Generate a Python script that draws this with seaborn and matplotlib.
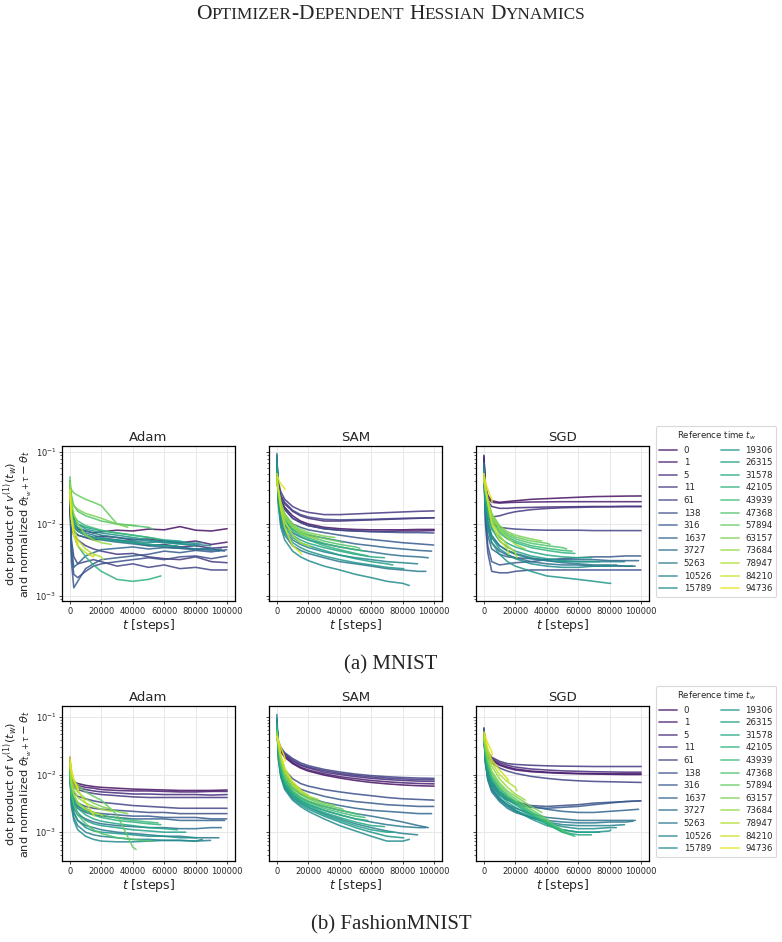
import matplotlib
matplotlib.use("Agg")
import matplotlib.pyplot as plt
import pandas as pd
import seaborn as sns

# reference times (legend entries), one curve per entry in every panel
T_W = [0, 1, 5, 11, 61, 138, 316, 1637, 3727, 5263, 10526, 15789,
       19306, 26315, 31578, 42105, 43939, 47368, 57894, 63157, 73684, 78947, 84210, 94736]
T_GRID = [0, 1000, 2500, 5000, 10000, 15000, 20000, 30000, 40000, 50000,
          60000, 70000, 80000, 90000]
T_TOTAL = 100000
OPTIMIZERS = ["Adam", "SAM", "SGD"]

# dot products, in units of 1e-3 (last value = curve end)
mnist_adam = [
    [20, 12, 9.5, 8.5, 8, 7.5, 7.8, 8.2, 8.0, 8.5, 8.3, 9.2, 8.2, 8.0, 8.6],
    [18, 11, 9, 8, 7, 6.5, 6.8, 6.5, 6.0, 6.2, 5.8, 5.5, 5.8, 5.2, 5.6],
    [16, 10, 8, 7, 6.5, 6.0, 6.2, 5.8, 5.5, 5.0, 5.2, 4.8, 5.0, 4.6, 4.8],
    [15, 9, 7, 6, 5, 4.5, 4.2, 3.8, 3.9, 3.5, 3.3, 3.2, 3.5, 3.0, 2.9],
    [22, 6, 3.5, 2.8, 3.0, 3.2, 3.0, 2.6, 2.8, 2.5, 2.7, 2.4, 2.5, 2.3, 2.3],
    [25, 4, 2, 1.8, 2.2, 2.6, 2.8, 3.0, 3.2, 3.4, 3.2, 3.5, 3.6, 3.3, 3.6],
    [28, 3, 1.3, 1.6, 2.4, 2.8, 3.2, 3.4, 3.6, 3.8, 4.2, 4.0, 4.3, 4.1, 4.4],
    [30, 5, 2.5, 2.8, 3.6, 4.0, 4.4, 4.6, 4.8, 4.5, 4.7, 4.6, 4.4, 4.5, 4.2],
    [30, 12, 8, 7, 6.5, 6.2, 6.0, 5.6, 5.3, 5.0, 4.8, 4.6, 4.5, 4.3, 4.5],
    [32, 14, 10, 8.5, 7.5, 7, 6.5, 6, 5.6, 5.2, 5.0, 4.8, 4.5, 4.6, 4.2],
    [30, 15, 11, 9, 8, 7.5, 7, 6.5, 6.2, 5.8, 5.5, 5.3, 5.2, 5.0],
    [28, 14, 10, 8, 7, 6.5, 6.2, 6, 5.8, 5.5, 5.8, 5.6, 5.4, 5.5],
    [35, 16, 12, 10, 8.5, 8, 7.5, 7, 6.5, 6.0, 5.6, 5.3, 5.0, 4.8],
    [30, 15, 12, 10, 9, 8.5, 8, 7.5, 7, 6.5, 6.0, 5.8, 5.5],
    [28, 14, 10, 8, 7, 6.5, 6.2, 5.8, 5.5, 5.2, 5.0, 5.0],
    [40, 12, 7, 5, 3.5, 2.7, 2.2, 1.7, 1.6, 1.7, 1.9],
    [35, 18, 13, 11, 9.5, 8.8, 8.2, 7.5, 7, 6.5, 6.2],
    [45, 25, 18, 15, 13, 12, 11, 10, 9.5, 9, 8.5],
    [33, 30, 27, 25, 22, 20, 18, 10, 9.5],
    [30, 22, 18, 16, 14, 13, 12, 10, 9],
    [38, 20, 14, 10, 7, 6, 5.5, 5.2],
    [30, 14, 9, 6, 4.5, 3.8, 3.5, 3.2],
    [25, 12, 7, 5, 4, 3.5, 3.8],
    [30, 12, 7, 5.5, 5.0],
]
mnist_sam = [
    [60, 30, 22, 17, 13, 11, 10, 9.0, 8.6, 8.4, 8.3, 8.3, 8.3, 8.4, 8.4],
    [55, 28, 20, 16, 12, 10.5, 9.5, 8.6, 8.2, 8.0, 7.9, 7.9, 8.0, 8.0, 8.1],
    [60, 32, 24, 19, 15, 13, 12, 11, 11, 11.2, 11.4, 11.6, 11.8, 12.0, 12.2],
    [70, 38, 28, 22, 17.5, 15.5, 14.5, 13.5, 13.5, 13.8, 14.1, 14.4, 14.7, 15.0, 15.2],
    [65, 34, 25, 20, 15.5, 13.5, 12.5, 11.6, 11.4, 11.5, 11.6, 11.8, 12.0, 12.1, 12.2],
    [60, 30, 21, 16, 12, 10.5, 9.5, 8.6, 8.2, 8.0, 7.8, 7.7, 7.6, 7.6, 7.5],
    [70, 28, 18, 13, 10, 9, 8.3, 7.6, 7.0, 6.5, 6.1, 5.8, 5.5, 5.3, 5.1],
    [80, 25, 15, 11, 8.5, 7.5, 7.0, 6.4, 5.8, 5.3, 5.0, 4.7, 4.5, 4.3, 4.2],
    [90, 22, 13, 9.5, 7.5, 6.6, 6.0, 5.3, 4.8, 4.4, 4.1, 3.8, 3.6, 3.5, 3.4],
    [95, 20, 10, 7, 5, 4.3, 3.9, 3.4, 3.0, 2.8, 2.6, 2.4, 2.3, 2.2, 2.2],
    [85, 22, 12, 8, 6, 5.2, 4.7, 4.1, 3.7, 3.4, 3.2, 3.0, 2.9, 2.8],
    [75, 18, 9, 6, 4.2, 3.5, 3.1, 2.6, 2.3, 2.0, 1.8, 1.6, 1.5, 1.4],
    [70, 20, 11, 7.5, 5.5, 4.7, 4.2, 3.6, 3.2, 2.9, 2.7, 2.5, 2.4, 2.4],
    [60, 22, 13, 9, 6.5, 5.5, 5.0, 4.3, 3.7, 3.3, 3.0, 2.8, 2.7],
    [55, 24, 14, 10, 7, 6, 5.4, 4.7, 4.2, 3.8, 3.5, 3.4],
    [50, 25, 16, 11, 8, 6.8, 6.0, 5.0, 4.4, 3.9, 3.6],
    [45, 26, 17, 12, 8.5, 7.2, 6.4, 5.4, 4.8, 4.4, 4.2],
    [42, 28, 18, 13, 9, 7.6, 6.8, 5.8, 5.2, 4.8, 4.6],
    [40, 28, 19, 13, 9.5, 8, 7.2, 6.3, 5.7, 5.5],
    [38, 30, 20, 14, 10, 8.5, 7.6, 6.8, 6.5],
    [40, 30, 20, 13, 9, 7.5, 6.8, 6.2],
    [38, 28, 18, 11, 7, 5.5, 5.0, 4.8],
    [45, 30, 16, 9, 5, 4.0, 3.8],
    [50, 42, 36, 31, 30],
]
mnist_sgd = [
    [90, 35, 25, 21, 20, 20.5, 21, 22, 22.5, 23, 23.5, 24, 24.2, 24.4, 24.5],
    [85, 32, 23, 20, 19.5, 19.8, 20, 20.2, 20.3, 20.4, 20.4, 20.4, 20.4, 20.4, 20.4],
    [80, 30, 21, 17.5, 16.5, 16.5, 16.8, 17, 17.2, 17.3, 17.4, 17.5, 17.5, 17.6, 17.6],
    [75, 25, 16, 12.5, 13, 14, 14.8, 15.8, 16.4, 16.8, 17, 17.2, 17.3, 17.4, 17.4],
    [70, 22, 13, 10, 9, 8.7, 8.5, 8.3, 8.2, 8.2, 8.2, 8.1, 8.1, 8.1, 8.1],
    [60, 10, 4, 2.2, 2.1, 2.1, 2.2, 2.3, 2.3, 2.3, 2.3, 2.3, 2.3, 2.3, 2.3],
    [55, 12, 5, 3.0, 2.7, 2.8, 2.9, 3.0, 3.2, 3.3, 3.4, 3.5, 3.5, 3.6, 3.6],
    [60, 15, 7, 4.5, 3.8, 3.5, 3.4, 3.3, 3.2, 3.2, 3.2, 3.2, 3.1, 3.1, 3.1],
    [65, 18, 9, 5.5, 4.2, 3.7, 3.4, 3.0, 2.8, 2.7, 2.7, 2.6, 2.6, 2.6, 2.6],
    [70, 20, 10, 6.5, 5.0, 4.3, 3.9, 3.4, 3.1, 2.9, 2.8, 2.7, 2.7, 2.6, 2.6],
    [60, 20, 11, 7, 5, 4.2, 3.8, 3.3, 3.1, 3.0, 3.0, 3.0, 3.0, 3.0],
    [55, 18, 10, 6.5, 4.5, 3.8, 3.3, 2.8, 2.6, 2.5, 2.5, 2.6, 2.6, 2.7],
    [50, 16, 9, 5.5, 3.8, 3.0, 2.6, 2.2, 1.9, 1.8, 1.7, 1.6, 1.5, 1.5],
    [55, 22, 13, 8.5, 5.8, 4.8, 4.2, 3.6, 3.3, 3.1, 3.0, 3.0, 3.0],
    [50, 24, 14, 9, 6.5, 5.4, 4.8, 4.1, 3.7, 3.5, 3.4, 3.4],
    [45, 26, 16, 10.5, 7.5, 6.2, 5.5, 4.7, 4.3, 4.0, 3.9],
    [48, 28, 18, 11.5, 8, 6.6, 5.8, 5.0, 4.6, 4.3, 4.2],
    [50, 30, 20, 12.5, 8.5, 7, 6.2, 5.4, 5.0, 4.7, 4.5],
    [45, 30, 21, 13.5, 9, 7.4, 6.6, 5.8, 5.4, 5.2],
    [40, 32, 22, 14, 9.5, 7.8, 7.0, 6.2, 5.8],
    [42, 33, 22, 13, 8.5, 6.5, 5.2, 4.5],
    [40, 30, 20, 11, 7, 5.0, 4.0, 3.4],
    [45, 32, 20, 10, 6, 4.5, 3.8],
    [50, 38, 30, 22, 20],
]
fashion_adam = [
    [20, 9, 7.5, 7, 6.5, 6.2, 6.0, 5.8, 5.6, 5.5, 5.4, 5.3, 5.3, 5.3, 5.4],
    [18, 8.5, 7, 6.5, 6, 5.8, 5.5, 5.3, 5.2, 5.2, 5.1, 5.0, 5.0, 5.1, 5.1],
    [17, 8, 6.5, 6, 5.5, 5.2, 5.0, 4.8, 4.6, 4.6, 4.5, 4.5, 4.5, 4.4, 4.5],
    [16, 7.5, 6, 5.5, 5.0, 4.7, 4.5, 4.3, 4.1, 4.0, 4.0, 4.0, 4.0, 4.0, 4.0],
    [14, 6, 4.8, 4.2, 3.8, 3.5, 3.3, 3.1, 2.9, 2.8, 2.7, 2.6, 2.6, 2.6, 2.6],
    [13, 5, 3.8, 3.2, 2.8, 2.6, 2.5, 2.4, 2.3, 2.2, 2.2, 2.1, 2.1, 2.1, 2.1],
    [12, 4.5, 3.4, 2.8, 2.4, 2.2, 2.1, 2.0, 1.9, 1.9, 1.8, 1.8, 1.8, 1.7, 1.7],
    [13, 4.5, 3.2, 2.6, 2.2, 2.0, 1.9, 1.8, 1.7, 1.7, 1.7, 1.6, 1.6, 1.6, 1.6],
    [12, 4, 2.6, 2.0, 1.7, 1.5, 1.4, 1.3, 1.25, 1.2, 1.2, 1.15, 1.15, 1.2, 1.2],
    [11, 3.5, 2.2, 1.6, 1.3, 1.2, 1.1, 1.0, 0.95, 0.9, 0.85, 0.85, 0.8, 0.8, 0.8],
    [12, 3, 1.8, 1.3, 1.0, 0.9, 0.85, 0.8, 0.75, 0.75, 0.72, 0.72, 0.7, 0.72],
    [11, 2.8, 1.6, 1.1, 0.85, 0.75, 0.7, 0.68, 0.68, 0.7, 0.72, 0.72, 0.7, 0.75],
    [10, 3.5, 2.2, 1.6, 1.2, 1.05, 1.0, 0.95, 0.9, 0.85, 0.85, 0.8, 0.8, 0.8],
    [11, 4.5, 3, 2.2, 1.6, 1.4, 1.3, 1.2, 1.1, 1.05, 1.0, 1.0, 1.0],
    [12, 5, 3.5, 2.6, 2.0, 1.7, 1.55, 1.4, 1.3, 1.2, 1.15, 1.1],
    [12, 5.5, 4, 3, 2.3, 2.0, 1.8, 1.6, 1.5, 1.4, 1.35],
    [13, 6, 4.3, 3.3, 2.6, 2.2, 2.0, 1.75, 1.6, 1.5, 1.45],
    [11, 4.5, 3, 2, 1.4, 1.1, 0.95, 0.8, 0.75, 0.7, 0.7],
    [14, 10, 8, 6.5, 5.0, 4.2, 3.6, 2.0, 0.55, 0.5],
    [15, 9, 6.5, 5, 3.8, 3.2, 2.8, 2.3, 2.1],
    [16, 8, 5.5, 4, 3.2, 2.8, 2.5, 2.3],
    [16, 7, 4.5, 3.2, 2.5, 2.2, 2.0, 1.9],
    [18, 12, 8, 5.5, 3.3, 2.0, 1.9],
    [20, 12, 8, 6, 5.5],
]
fashion_sam = [
    [55, 32, 25, 20, 15.5, 13, 11.5, 9.8, 8.7, 7.9, 7.3, 6.9, 6.6, 6.4, 6.3],
    [58, 34, 26, 21, 16, 13.5, 12, 10.3, 9.2, 8.5, 7.9, 7.5, 7.2, 7.0, 6.9],
    [60, 35, 27, 22, 17, 14.5, 13, 11, 10, 9.2, 8.6, 8.2, 7.9, 7.7, 7.6],
    [62, 36, 28, 23, 18, 15, 13.5, 11.7, 10.5, 9.7, 9.1, 8.7, 8.4, 8.2, 8.1],
    [65, 38, 30, 24, 19, 16, 14.3, 12.3, 11.1, 10.2, 9.6, 9.2, 8.9, 8.7, 8.6],
    [70, 30, 18, 12, 8.5, 7, 6.3, 5.5, 5.0, 4.6, 4.3, 4.0, 3.8, 3.7, 3.6],
    [75, 28, 16, 10, 7, 5.6, 5.0, 4.2, 3.7, 3.4, 3.2, 3.0, 2.9, 2.8, 2.8],
    [80, 26, 14, 8.5, 5.8, 4.6, 4.0, 3.3, 2.9, 2.6, 2.4, 2.3, 2.2, 2.1, 2.1],
    [90, 24, 12, 7.5, 5, 4, 3.4, 2.8, 2.4, 2.1, 1.9, 1.7, 1.5, 1.3, 1.2],
    [110, 22, 11, 6.5, 4.5, 3.5, 3.0, 2.4, 2.0, 1.7, 1.5, 1.35, 1.25, 1.2, 1.2],
    [95, 20, 10, 6, 4, 3.2, 2.7, 2.1, 1.7, 1.4, 1.2, 1.05, 0.95, 0.9],
    [85, 18, 9, 5.5, 3.6, 2.8, 2.3, 1.7, 1.3, 1.05, 0.85, 0.7, 0.7, 0.75],
    [80, 19, 9.5, 5.8, 3.8, 3.0, 2.5, 1.9, 1.5, 1.2, 1.0, 0.85, 0.8, 0.8],
    [75, 22, 11, 6.5, 4.2, 3.3, 2.7, 2.0, 1.6, 1.3, 1.1, 1.0, 1.0],
    [70, 24, 12, 7, 4.5, 3.5, 2.9, 2.2, 1.8, 1.5, 1.3, 1.25],
    [65, 26, 13, 7.5, 4.8, 3.7, 3.1, 2.4, 2.0, 1.7, 1.6],
    [60, 28, 14, 8, 5.0, 3.9, 3.3, 2.6, 2.2, 1.9, 1.8],
    [58, 30, 15, 8.5, 5.3, 4.1, 3.5, 2.8, 2.4, 2.1, 2.0],
    [55, 32, 17, 9.5, 5.8, 4.5, 3.8, 3.0, 2.6, 2.5],
    [52, 34, 18, 10, 6.2, 4.8, 4.0, 3.2, 2.9],
    [50, 35, 19, 11, 6.6, 5.0, 4.2, 3.7],
    [48, 36, 20, 12, 7, 5.3, 4.4, 4.0],
    [46, 37, 22, 13, 7.5, 5.5, 5.0],
    [45, 38, 30, 20, 17],
]
fashion_sgd = [
    [60, 30, 22, 18, 15, 13.5, 12.5, 11.5, 11, 10.7, 10.5, 10.4, 10.3, 10.3, 10.3],
    [58, 29, 21, 17.5, 14.5, 13, 12, 11.2, 10.8, 10.5, 10.3, 10.2, 10.1, 10.0, 10.0],
    [62, 31, 23, 19, 16, 14.5, 13.5, 12.5, 12, 11.6, 11.4, 11.2, 11.1, 11.0, 11.0],
    [65, 33, 25, 20, 17, 15.5, 15, 14.5, 14.2, 14, 13.9, 13.8, 13.8, 13.8, 13.8],
    [60, 28, 20, 16, 13, 11.5, 10.5, 9.3, 8.6, 8.1, 7.8, 7.6, 7.5, 7.4, 7.3],
    [55, 20, 12, 7.5, 5, 4, 3.4, 2.9, 2.8, 2.9, 3.0, 3.2, 3.3, 3.4, 3.5],
    [50, 18, 10, 6.5, 4.4, 3.6, 3.1, 2.7, 2.6, 2.7, 2.8, 3.0, 3.2, 3.4, 3.5],
    [55, 19, 11, 7, 4.8, 3.8, 3.3, 2.8, 2.5, 2.3, 2.2, 2.2, 2.3, 2.4, 2.5],
    [55, 17, 9, 5.5, 3.8, 3.0, 2.6, 2.1, 1.8, 1.7, 1.6, 1.6, 1.6, 1.6, 1.6],
    [60, 16, 8, 5, 3.4, 2.6, 2.2, 1.8, 1.6, 1.5, 1.45, 1.45, 1.5, 1.5, 1.55],
    [55, 16, 8.5, 5.5, 3.6, 2.8, 2.3, 1.8, 1.5, 1.35, 1.3, 1.3, 1.3, 1.35],
    [50, 17, 9, 5.8, 3.8, 2.9, 2.4, 1.8, 1.45, 1.25, 1.15, 1.15, 1.2, 1.2],
    [52, 18, 10, 6, 4, 3.0, 2.4, 1.7, 1.3, 1.1, 1.0, 1.0, 1.05, 1.1],
    [50, 20, 11, 7, 4.5, 3.3, 2.7, 1.9, 1.4, 1.1, 1.0, 1.0, 1.0],
    [48, 22, 13, 8, 5, 3.7, 3.0, 2.0, 1.4, 1.0, 0.9, 0.9],
    [46, 24, 14, 8.5, 5.4, 4.0, 3.2, 2.1, 1.4, 1.0, 0.85],
    [45, 25, 15, 9, 5.8, 4.2, 3.4, 2.2, 1.5, 1.05, 0.9],
    [44, 26, 16, 9.5, 6, 4.4, 3.5, 2.3, 1.6, 1.1, 1.0],
    [42, 28, 17, 10.5, 6.6, 4.8, 3.8, 2.5, 1.7, 1.5],
    [40, 30, 19, 11.5, 7.2, 5.2, 4.2, 2.8, 2.2],
    [42, 32, 22, 14, 8.5, 6.0, 4.6, 3.6],
    [45, 35, 25, 16, 10, 7.5, 6.0, 5.2],
    [50, 40, 28, 18, 12, 8.5, 7.8],
    [55, 45, 35, 25, 22],
]

ROWS = [
    ("(a) MNIST", [mnist_adam, mnist_sam, mnist_sgd], (8.53e-4, 0.121)),
    ("(b) FashionMNIST", [fashion_adam, fashion_sam, fashion_sgd], (3.16e-4, 0.155)),
]


def panel_frame(curves):
    rows = []
    for tw, vals in zip(T_W, curves):
        end = T_TOTAL - tw
        ts = [t for t in T_GRID if t < end][:len(vals) - 1] + [end]
        for t, v in zip(ts, vals):
            rows.append((t, v * 1e-3, str(tw)))
    return pd.DataFrame(rows, columns=["t", "dot", "tw"])


sns.set_style("whitegrid", {
    "axes.edgecolor": "black",
    "grid.color": "#e8e8e8",
    "xtick.bottom": True,
    "ytick.left": True,
})
plt.rcParams["axes.linewidth"] = 0.9

W, H = 782, 942
fig = plt.figure(figsize=(W / 100, H / 100), dpi=100)
palette = sns.color_palette("viridis", len(T_W))
hue_order = [str(t) for t in T_W]

COL_LEFT = [62, 269, 476]
AX_W, AX_H = 173, 155
ROW_TOP = [446, 706]
CAPTION_Y = [665, 925]

for r, (caption, panels, ylim) in enumerate(ROWS):
    first = None
    for c, (name, curves) in enumerate(zip(OPTIMIZERS, panels)):
        rect = [COL_LEFT[c] / W, 1 - (ROW_TOP[r] + AX_H) / H, AX_W / W, AX_H / H]
        ax = fig.add_axes(rect, sharey=first)
        if first is None:
            first = ax
        df = panel_frame(curves)
        sns.lineplot(data=df, x="t", y="dot", hue="tw", hue_order=hue_order,
                     palette=palette, estimator=None, sort=False,
                     linewidth=1.15, alpha=0.85, legend=(c == 2), ax=ax)
        ax.set_yscale("log")
        ax.set_ylim(*ylim)
        ax.set_xlim(-5000, 105000)
        ax.set_xticks([0, 20000, 40000, 60000, 80000, 100000])
        ax.set_title(name, fontsize=9.5, pad=3.5)
        ax.set_xlabel("$t$ [steps]", fontsize=9, labelpad=1)
        ax.tick_params(axis="both", which="major", labelsize=6, length=2.5,
                       width=0.6, pad=1.5)
        ax.tick_params(axis="y", which="minor", length=1.5, width=0.5, left=True)
        ax.grid(True, which="major", linewidth=0.7)
        if c == 0:
            ax.set_ylabel("dot product of $v^{(1)}(t_w)$\n"
                          "and normalized $\\theta_{t_w+\\tau} - \\theta_t$",
                          fontsize=8.2, linespacing=0.95)
            ax.yaxis.set_label_coords(-0.16, 0.5)
        else:
            ax.set_ylabel("")
            ax.tick_params(axis="y", labelleft=False)
        if c == 2:
            handles, labels = ax.get_legend_handles_labels()
            ax.get_legend().remove()
            leg = fig.legend(handles, labels, loc="upper left",
                             bbox_to_anchor=(656 / W, 1 - (ROW_TOP[r] - 20) / H),
                             ncol=2, fontsize=6.2, title="Reference time $t_w$",
                             title_fontsize=6.2, frameon=True, borderaxespad=0,
                             fancybox=True, labelspacing=0.42, columnspacing=1.2)
            leg.get_frame().set_edgecolor("#d0d0d0")
            leg.get_frame().set_linewidth(0.8)
            for h in leg.legend_handles:
                h.set_alpha(0.7)
                h.set_linewidth(1.3)
    fig.text(391 / W, 1 - CAPTION_Y[r] / H, caption, ha="center", va="center",
             fontsize=15, family="Liberation Serif")

# running header in small caps, built from pieces
BIG, SMALL = 15.5, 12.4
pieces = [("O", BIG), ("PTIMIZER", SMALL), ("-", BIG), ("D", BIG), ("EPENDENT", SMALL),
          (" ", BIG), ("H", BIG), ("ESSIAN", SMALL), (" ", BIG), ("D", BIG), ("YNAMICS", SMALL)]
renderer = fig.canvas.get_renderer()
texts, widths = [], []
for s, size in pieces:
    if s == " ":
        texts.append(None)
        widths.append(size * 0.25 * 100 / 72)
        continue
    t = fig.text(0, 1 - 19 / H, s, fontsize=size, family="Liberation Serif",
                 va="baseline", ha="left")
    texts.append(t)
    widths.append(t.get_window_extent(renderer).width)
x = 391 - sum(widths) / 2
for t, w in zip(texts, widths):
    if t is not None:
        t.set_x(x / W)
    x += w

fig.savefig("out.png", dpi=100)
